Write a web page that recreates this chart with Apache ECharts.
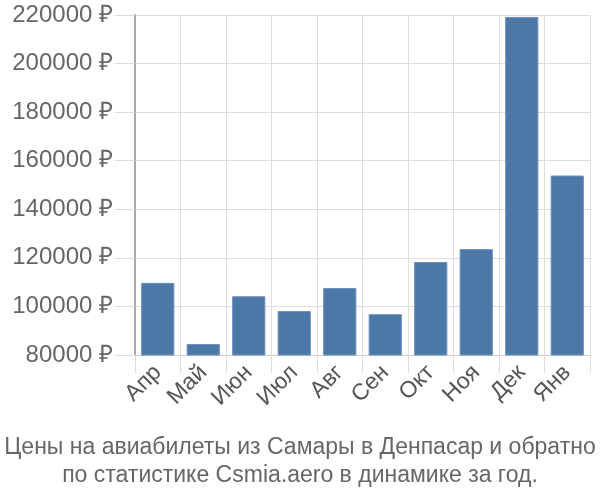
<!DOCTYPE html>
<html><head><meta charset="utf-8">
<script src="https://cdn.jsdelivr.net/npm/echarts@6/dist/echarts.min.js"></script>
<style>html,body{margin:0;padding:0;background:#fff}#c{width:600px;height:500px}</style>
</head><body><div id="c"></div>
<script>
const categories = ['Апр','Май','Июн','Июл','Авг','Сен','Окт','Ноя','Дек','Янв'];
const prices = [109700, 84500, 104200, 98100, 107600, 96800, 118300, 123600, 219200, 153900];
const yTicks = [80000, 220000, 20000];
const titleLines = ['Цены на авиабилеты из Самары в Денпасар и обратно','по статистике Csmia.aero в динамике за год.'];

const chart = echarts.init(document.getElementById('c'));
chart.setOption({
  animation: false,
  title: {
    text: titleLines.join('\n'),
    left: 'center', bottom: 5,
    textStyle: {fontFamily: 'Liberation Sans', fontSize: 23, fontWeight: 'normal', color: '#666', lineHeight: 28}
  },
  grid: {left: 135, right: 10, top: 15, bottom: 145},
  xAxis: {
    type: 'category', data: categories,
    axisLine: {lineStyle: {color: '#ccc'}},
    axisTick: {show: true, length: 18, lineStyle: {color: '#ddd'}},
    splitLine: {show: true, lineStyle: {color: '#ddd'}},
    axisLabel: {rotate: 45, fontFamily: 'Liberation Sans', fontSize: 23, color: '#555', margin: 14}
  },
  yAxis: {
    type: 'value', min: yTicks[0], max: yTicks[1], interval: yTicks[2],
    axisLine: {show: true, lineStyle: {color: '#aaa', width: 2}},
    axisTick: {show: true, length: 20, lineStyle: {color: '#ddd'}},
    splitLine: {lineStyle: {color: '#ddd'}},
    axisLabel: {formatter: v => v + ' ₽', fontFamily: 'Liberation Sans', fontSize: 24, color: '#666', margin: 22}
  },
  series: [{
    type: 'bar', data: prices, barCategoryGap: '27%',
    itemStyle: {color: '#4c78a8', borderColor: '#6f91ba', borderWidth: 1}
  }]
});
</script></body></html>
